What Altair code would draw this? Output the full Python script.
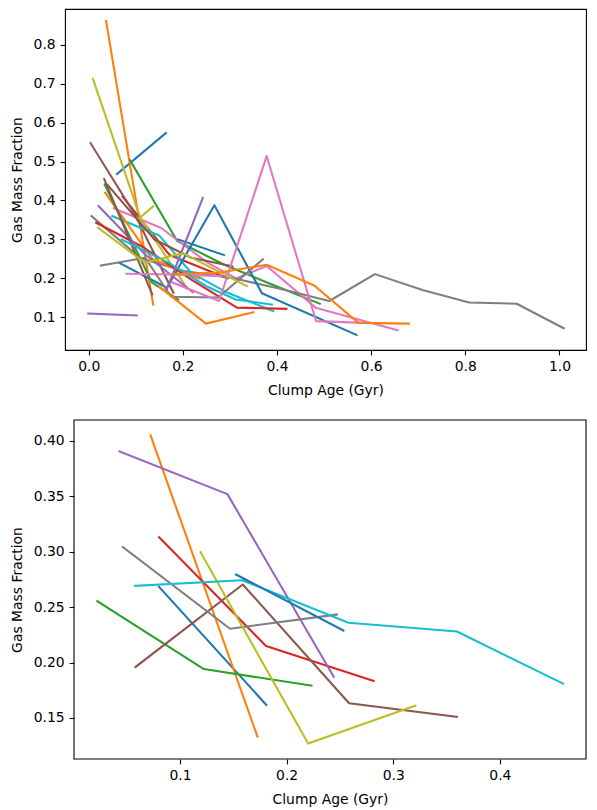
import altair as alt
import pandas as pd

# ---------------- colours (matplotlib tab10) ----------------
BLUE, ORANGE, GREEN, RED, PURPLE = "#1f77b4", "#ff7f0e", "#2ca02c", "#d62728", "#9467bd"
BROWN, PINK, GRAY, OLIVE, CYAN = "#8c564b", "#e377c2", "#7f7f7f", "#bcbd22", "#17becf"

# ---------------- top panel: (clump age [Gyr], gas mass fraction) ----------------
t_blue1 = [(0.060, 0.468), (0.164, 0.573)]
t_orange1 = [(0.037, 0.861), (0.137, 0.133)]
t_green1 = [(0.088, 0.503), (0.188, 0.296), (0.288, 0.235), (0.388, 0.185), (0.491, 0.135)]
t_red1 = [(0.072, 0.410), (0.172, 0.260), (0.295, 0.200)]
t_purple1 = [(-0.001, 0.110), (0.102, 0.105)]
t_brown1 = [(0.004, 0.547), (0.100, 0.360), (0.180, 0.163)]
t_pink1 = [(0.053, 0.380), (0.153, 0.330), (0.253, 0.240), (0.313, 0.200), (0.378, 0.232), (0.482, 0.125), (0.656, 0.067)]
t_gray1 = [(0.006, 0.360), (0.110, 0.252), (0.206, 0.218), (0.306, 0.201), (0.411, 0.172), (0.511, 0.142),
           (0.608, 0.211), (0.709, 0.170), (0.808, 0.138), (0.909, 0.135), (1.009, 0.072)]
t_olive1 = [(0.009, 0.712), (0.109, 0.358), (0.209, 0.174)]
t_cyan1 = [(0.050, 0.360), (0.150, 0.310), (0.218, 0.214), (0.295, 0.163), (0.392, 0.116)]
t_blue2 = [(0.065, 0.240), (0.166, 0.176), (0.267, 0.388), (0.368, 0.162), (0.569, 0.055)]
t_orange2 = [(0.035, 0.420), (0.135, 0.250), (0.235, 0.200)]
t_green2 = [(0.034, 0.441), (0.134, 0.190), (0.190, 0.146)]
t_red2 = [(0.016, 0.343), (0.116, 0.280), (0.218, 0.197), (0.315, 0.125), (0.420, 0.122)]
t_purple2 = [(0.021, 0.386), (0.121, 0.260), (0.221, 0.165)]
t_brown2 = [(0.033, 0.455), (0.135, 0.159)]
t_pink2 = [(0.080, 0.212), (0.180, 0.210), (0.280, 0.206)]
t_gray2 = [(0.026, 0.233), (0.120, 0.253), (0.175, 0.153), (0.275, 0.151), (0.370, 0.249)]
t_olive2 = [(0.103, 0.350), (0.137, 0.385)]
t_cyan2 = [(0.070, 0.300), (0.170, 0.240), (0.250, 0.180), (0.312, 0.146), (0.389, 0.133)]
t_blue3 = [(0.190, 0.300), (0.2875, 0.260)]
t_orange3 = [(0.149, 0.180), (0.249, 0.084), (0.350, 0.113)]
t_purple3 = [(0.166, 0.172), (0.2425, 0.407)]
t_brown3 = [(0.040, 0.440), (0.140, 0.300), (0.218, 0.253), (0.305, 0.231)]
t_pink3 = [(0.177, 0.190), (0.277, 0.142), (0.378, 0.514), (0.483, 0.0905), (0.583, 0.086)]
t_olive3 = [(0.020, 0.330), (0.120, 0.240), (0.200, 0.265), (0.336, 0.180)]
t_orange4 = [(0.178, 0.210), (0.278, 0.215), (0.378, 0.235), (0.479, 0.182), (0.573, 0.086), (0.680, 0.084)]

top_lines = [
    (t_blue1, BLUE), (t_orange1, ORANGE), (t_green1, GREEN), (t_red1, RED), (t_purple1, PURPLE),
    (t_brown1, BROWN), (t_pink1, PINK), (t_gray1, GRAY), (t_olive1, OLIVE), (t_cyan1, CYAN),
    (t_blue2, BLUE), (t_orange2, ORANGE), (t_green2, GREEN), (t_red2, RED), (t_purple2, PURPLE),
    (t_brown2, BROWN), (t_pink2, PINK), (t_gray2, GRAY), (t_olive2, OLIVE), (t_cyan2, CYAN),
    (t_blue3, BLUE), (t_orange3, ORANGE), (t_purple3, PURPLE), (t_brown3, BROWN), (t_pink3, PINK),
    (t_olive3, OLIVE), (t_orange4, ORANGE),
]

# ---------------- bottom panel ----------------
b_blue1 = [(0.0804, 0.2683), (0.1810, 0.1617)]
b_orange = [(0.0724, 0.4050), (0.1727, 0.1330)]
b_green = [(0.0224, 0.2554), (0.1224, 0.1941), (0.2233, 0.1791)]
b_red = [(0.0804, 0.3130), (0.1807, 0.2149), (0.2816, 0.1833)]
b_purple = [(0.0433, 0.3905), (0.1445, 0.3520), (0.2442, 0.1870)]
b_brown = [(0.0583, 0.1960), (0.1589, 0.2704), (0.2586, 0.1632), (0.3598, 0.1509)]
b_gray = [(0.0464, 0.3043), (0.1469, 0.2305), (0.2472, 0.2433)]
b_olive = [(0.1193, 0.2996), (0.2202, 0.1268), (0.3208, 0.1611)]
b_cyan = [(0.0580, 0.2692), (0.1583, 0.2743), (0.2580, 0.2359), (0.3598, 0.2280), (0.4594, 0.1809)]
b_blue2 = [(0.1525, 0.2794), (0.2533, 0.2289)]

bottom_lines = [
    (b_blue1, BLUE), (b_orange, ORANGE), (b_green, GREEN), (b_red, RED), (b_purple, PURPLE),
    (b_brown, BROWN), (b_gray, GRAY), (b_olive, OLIVE), (b_cyan, CYAN), (b_blue2, BLUE),
]

top_xticks = [0.0, 0.2, 0.4, 0.6, 0.8, 1.0]
top_yticks = [0.1, 0.2, 0.3, 0.4, 0.5, 0.6, 0.7, 0.8]
bot_xticks = [0.1, 0.2, 0.3, 0.4]
bot_yticks = [0.15, 0.20, 0.25, 0.30, 0.35, 0.40]

TOP_XDOM, TOP_YDOM = [-0.0503, 1.0563], [0.0163, 0.8914]
BOT_XDOM, BOT_YDOM = [0.0006, 0.4808], [0.1129, 0.4189]

TOP_W, TOP_H = 521, 341
BOT_SHIFT = 9          # bottom frame starts 9px right of the top one (wider tick labels)
BOT_H = 339


def table(lines, prefix):
    rows = []
    for k, (pts, col) in enumerate(lines):
        for i, (a, f) in enumerate(pts):
            rows.append({"series": f"{prefix}{k:02d}", "col": col, "i": i, "age": a, "frac": f})
    return pd.DataFrame(rows)


LINE = dict(strokeWidth=2.08, strokeCap="square", strokeJoin="round", clip=True)

# ---- top panel ----
df_top = table(top_lines, "t")
top = alt.Chart(df_top).mark_line(**LINE).encode(
    x=alt.X("age:Q", title="Clump Age (Gyr)",
            scale=alt.Scale(domain=TOP_XDOM, nice=False, zero=False),
            axis=alt.Axis(values=top_xticks, format=".1f")),
    y=alt.Y("frac:Q", title="Gas Mass Fraction",
            scale=alt.Scale(domain=TOP_YDOM, nice=False, zero=False),
            axis=alt.Axis(values=top_yticks, format=".1f")),
    color=alt.Color("col:N", scale=None),
    detail="series:N",
    order="i:Q",
).properties(width=TOP_W, height=TOP_H,
             view=alt.ViewBackground(stroke="black", strokeWidth=1.1))

# ---- bottom panel (frame = one rectangle spanning the scale domains) ----
df_bot = table(bottom_lines, "b")
xs_b = alt.Scale(domain=BOT_XDOM, range=[BOT_SHIFT, TOP_W], nice=False, zero=False)
ys_b = alt.Scale(domain=BOT_YDOM, nice=False, zero=False)
bot_lines = alt.Chart(df_bot).mark_line(**LINE).encode(
    x=alt.X("age:Q", title="Clump Age (Gyr)", scale=xs_b,
            axis=alt.Axis(values=bot_xticks, format=".1f")),
    y=alt.Y("frac:Q", title="Gas Mass Fraction", scale=ys_b,
            axis=alt.Axis(values=bot_yticks, format=".2f", offset=-BOT_SHIFT)),
    color=alt.Color("col:N", scale=None),
    detail="series:N",
    order="i:Q",
)
bot_frame = alt.Chart(pd.DataFrame({"frame": [1]})).mark_rect(
    filled=False, stroke="black", strokeWidth=1.1
).encode(
    x=alt.datum(BOT_XDOM[0]), x2=alt.datum(BOT_XDOM[1]),
    y=alt.datum(BOT_YDOM[0]), y2=alt.datum(BOT_YDOM[1]),
)
bottom = alt.layer(bot_lines, bot_frame).properties(
    width=TOP_W, height=BOT_H, view=alt.ViewBackground(stroke="transparent")
)

chart = alt.vconcat(top, bottom, spacing=20).properties(
    padding={"left": 1, "top": 0, "right": 0, "bottom": 0}
).configure_view(
    stroke="transparent"
).configure_axis(
    grid=False, domain=False,
    tickSize=4.9, tickWidth=1.1, tickColor="black",
    labelFont="DejaVu Sans", labelFontSize=13.9, labelColor="black", labelPadding=4.9,
    titleFont="DejaVu Sans", titleFontSize=13.9, titleFontWeight="normal", titleColor="black",
).configure_axisX(
    labelPadding=4.5, titlePadding=10
).configure_axisY(
    titlePadding=9
)

chart.save("out.html", embed_options={"renderer": "svg", "actions": False})
